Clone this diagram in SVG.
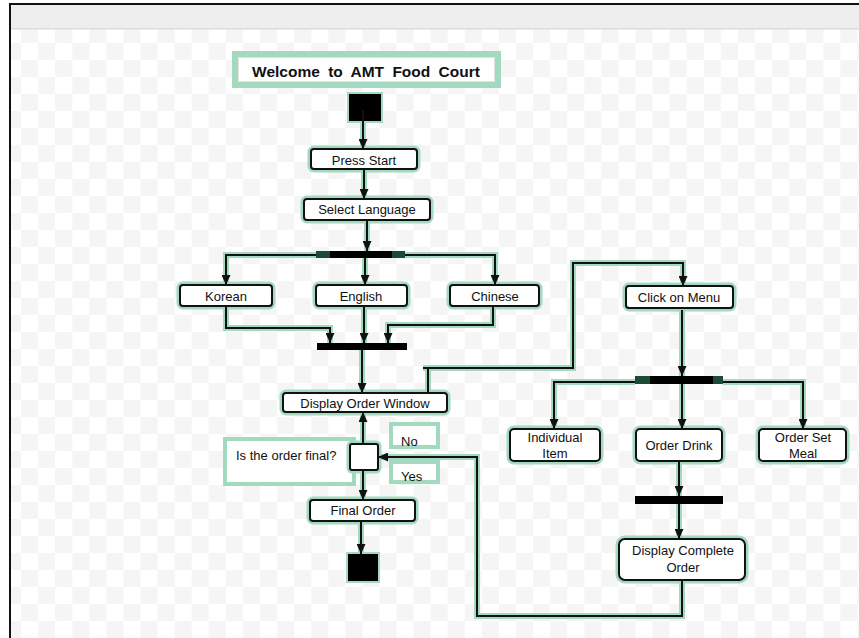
<svg xmlns="http://www.w3.org/2000/svg" xmlns:xlink="http://www.w3.org/1999/xlink" width="859" height="638" viewBox="0 0 859 638">
<style>
text{font-family:"Liberation Sans",Arial,Helvetica,sans-serif;font-size:13px;fill:#111;text-anchor:middle}
.halo{fill:none;stroke:#a3d9bf;stroke-width:7}
.box{fill:#fff;stroke:#111;stroke-width:2}
.gbox{fill:#fff;stroke:#a3d9bf;stroke-width:4}
.chalo use{fill:none;stroke:#a3d9bf;stroke-width:6}
.cline use{fill:none;stroke:#111;stroke-width:2}
.cline .a{marker-end:url(#arr)}
</style>
<defs>
<pattern id="chk" x="-13.14" y="-8" width="34.14" height="34" patternUnits="userSpaceOnUse">
<rect width="34.14" height="34" fill="#fff"/>
<rect width="17.07" height="17" fill="#f5f5f5"/>
<rect x="17.07" y="17" width="17.07" height="17" fill="#f5f5f5"/>
</pattern>
<marker id="arr" markerUnits="userSpaceOnUse" markerWidth="10" markerHeight="9" refX="10" refY="4.5" orient="auto">
<path d="M0,0 L10,4.5 L0,9 z" fill="#111"/>
</marker>
<path id="p1" d="M363,110 V149"/>
<path id="p2" d="M364,169 V199"/>
<path id="p3" d="M367,220 V251"/>
<path id="p4" d="M316,255 H226 V285"/>
<path id="p5" d="M365,258 V285"/>
<path id="p6" d="M405,255 H495 V285"/>
<path id="p7" d="M226,306 V328 H330 V343"/>
<path id="p8" d="M364,306 V343"/>
<path id="p9" d="M493,306 V325 H388 V343"/>
<path id="p10" d="M362,350 V393"/>
<path id="p11" d="M428,393 V368 M423,368 H573 V263 H683 V286"/>
<path id="p12" d="M682,310 V376"/>
<path id="p13" d="M635,382 H554 V429"/>
<path id="p14" d="M682,384 V429"/>
<path id="p15" d="M723,382 H803 V429"/>
<path id="p16" d="M679,461 V496"/>
<path id="p17" d="M679,504 V539"/>
<path id="p18" d="M682,580 V616 H477 V457 H378"/>
<path id="p19" d="M363,444 V412"/>
<path id="p20" d="M363,470 V500"/>
<path id="p21" d="M361,521 V554"/>
</defs>

<rect width="859" height="638" fill="#fff"/>
<rect x="11" y="29" width="848" height="609" fill="url(#chk)"/>
<rect x="11" y="5" width="848" height="23" fill="#eeeeee"/>
<rect x="11" y="28" width="848" height="1.5" fill="#dcdcdc"/>
<rect x="9" y="3" width="850" height="2" fill="#111"/>
<rect x="9" y="3" width="2" height="635" fill="#111"/>

<g id="connectors">
<g class="chalo">
<use xlink:href="#p1"/><use xlink:href="#p2"/><use xlink:href="#p3"/><use xlink:href="#p4"/><use xlink:href="#p5"/><use xlink:href="#p6"/><use xlink:href="#p7"/><use xlink:href="#p8"/><use xlink:href="#p9"/><use xlink:href="#p10"/><use xlink:href="#p11"/><use xlink:href="#p12"/><use xlink:href="#p13"/><use xlink:href="#p14"/><use xlink:href="#p15"/><use xlink:href="#p16"/><use xlink:href="#p17"/><use xlink:href="#p18"/><use xlink:href="#p19"/><use xlink:href="#p20"/><use xlink:href="#p21"/>
</g>
</g>

<g id="title">
<rect x="235" y="54" width="263" height="31" fill="#fff" stroke="#a3d9bf" stroke-width="6"/>
<rect x="238.5" y="57.5" width="256" height="24" fill="none" stroke="#e2e2e2" stroke-width="1"/>
<text x="366" y="77" style="font-size:15.5px;font-weight:bold;word-spacing:4px">Welcome to AMT Food Court</text>
</g>

<g id="start">
<rect x="349" y="94" width="32" height="27" fill="#000" stroke="#a3d9bf" stroke-width="4"/>
<rect x="349" y="94" width="32" height="27" fill="#000"/>
</g>

<g id="press-start">
<rect class="halo" x="311" y="149" width="106" height="20" rx="3"/>
<rect class="box" x="311" y="149" width="106" height="20" rx="3"/>
<text x="364" y="165">Press Start</text>
</g>

<g id="select-language">
<rect class="halo" x="304" y="199" width="126" height="21" rx="3"/>
<rect class="box" x="304" y="199" width="126" height="21" rx="3"/>
<text x="367" y="214">Select Language</text>
</g>

<g id="fork-language">
<rect x="316" y="251" width="89" height="7" fill="#1d4a34"/>
<rect x="330" y="251" width="62" height="7" fill="#000"/>
</g>

<g id="korean">
<rect class="halo" x="180" y="285" width="92" height="21" rx="3"/>
<rect class="box" x="180" y="285" width="92" height="21" rx="3"/>
<text x="226" y="301">Korean</text>
</g>

<g id="english">
<rect class="halo" x="316" y="285" width="91" height="21" rx="3"/>
<rect class="box" x="316" y="285" width="91" height="21" rx="3"/>
<text x="361" y="301">English</text>
</g>

<g id="chinese">
<rect class="halo" x="450" y="285" width="89" height="21" rx="3"/>
<rect class="box" x="450" y="285" width="89" height="21" rx="3"/>
<text x="495" y="301">Chinese</text>
</g>

<g id="join-language">
<rect x="317" y="343" width="90" height="7" fill="#000"/>
</g>

<g id="display-order-window">
<rect class="halo" x="283" y="393" width="164" height="19" rx="3"/>
<rect class="box" x="283" y="393" width="164" height="19" rx="3"/>
<text x="365" y="408">Display Order Window</text>
</g>

<g id="question">
<rect class="gbox" x="225" y="439" width="129" height="45"/>
<text x="236" y="460" style="text-anchor:start">Is the order final?</text>
</g>

<g id="no-label">
<rect class="gbox" x="391" y="424" width="47" height="23"/>
<text x="401" y="446" style="text-anchor:start">No</text>
</g>

<g id="yes-label">
<rect class="gbox" x="391" y="462" width="47" height="20"/>
<text x="401" y="481" style="text-anchor:start">Yes</text>
</g>

<g id="decision">
<rect class="halo" x="350" y="444" width="28" height="26" rx="2"/>
<rect class="box" x="350" y="444" width="28" height="26" rx="2"/>
</g>

<g id="final-order">
<rect class="halo" x="310" y="500" width="105" height="21" rx="3"/>
<rect class="box" x="310" y="500" width="105" height="21" rx="3"/>
<text x="363" y="515">Final Order</text>
</g>

<g id="end">
<rect x="348" y="554" width="30" height="27" fill="#000" stroke="#a3d9bf" stroke-width="4"/>
<rect x="348" y="554" width="30" height="27" fill="#000"/>
</g>

<g id="click-on-menu">
<rect class="halo" x="626" y="286" width="107" height="22" rx="3"/>
<rect class="box" x="626" y="286" width="107" height="22" rx="3"/>
<text x="679" y="302">Click on Menu</text>
</g>

<g id="fork-menu">
<rect x="635" y="376" width="88" height="8" fill="#1d4a34"/>
<rect x="650" y="376" width="63" height="8" fill="#000"/>
</g>

<g id="individual-item">
<rect class="halo" x="510" y="429" width="90" height="32" rx="4"/>
<rect class="box" x="510" y="429" width="90" height="32" rx="4"/>
<text x="555" y="442">Individual</text>
<text x="555" y="458">Item</text>
</g>

<g id="order-drink">
<rect class="halo" x="636" y="429" width="86" height="32" rx="4"/>
<rect class="box" x="636" y="429" width="86" height="32" rx="4"/>
<text x="679" y="450">Order Drink</text>
</g>

<g id="order-set-meal">
<rect class="halo" x="759" y="429" width="87" height="32" rx="4"/>
<rect class="box" x="759" y="429" width="87" height="32" rx="4"/>
<text x="803" y="442">Order Set</text>
<text x="803" y="458">Meal</text>
</g>

<g id="bar-drink">
<rect x="635" y="496" width="88" height="8" fill="#000"/>
</g>

<g id="display-complete-order">
<rect class="halo" x="619" y="539" width="126" height="41" rx="6"/>
<rect class="box" x="619" y="539" width="126" height="41" rx="6"/>
<text x="683" y="555">Display Complete</text>
<text x="683" y="572">Order</text>
</g>

<g id="connector-lines" class="cline">
<use class="a" xlink:href="#p1"/><use class="a" xlink:href="#p2"/><use class="a" xlink:href="#p3"/><use class="a" xlink:href="#p4"/><use class="a" xlink:href="#p5"/><use class="a" xlink:href="#p6"/><use class="a" xlink:href="#p7"/><use class="a" xlink:href="#p8"/><use class="a" xlink:href="#p9"/><use class="a" xlink:href="#p10"/><use class="a" xlink:href="#p11"/><use class="a" xlink:href="#p12"/><use class="a" xlink:href="#p13"/><use class="a" xlink:href="#p14"/><use class="a" xlink:href="#p15"/><use class="a" xlink:href="#p16"/><use class="a" xlink:href="#p17"/><use class="a" xlink:href="#p18"/><use class="a" xlink:href="#p19"/><use class="a" xlink:href="#p20"/><use class="a" xlink:href="#p21"/>
</g>
</svg>
